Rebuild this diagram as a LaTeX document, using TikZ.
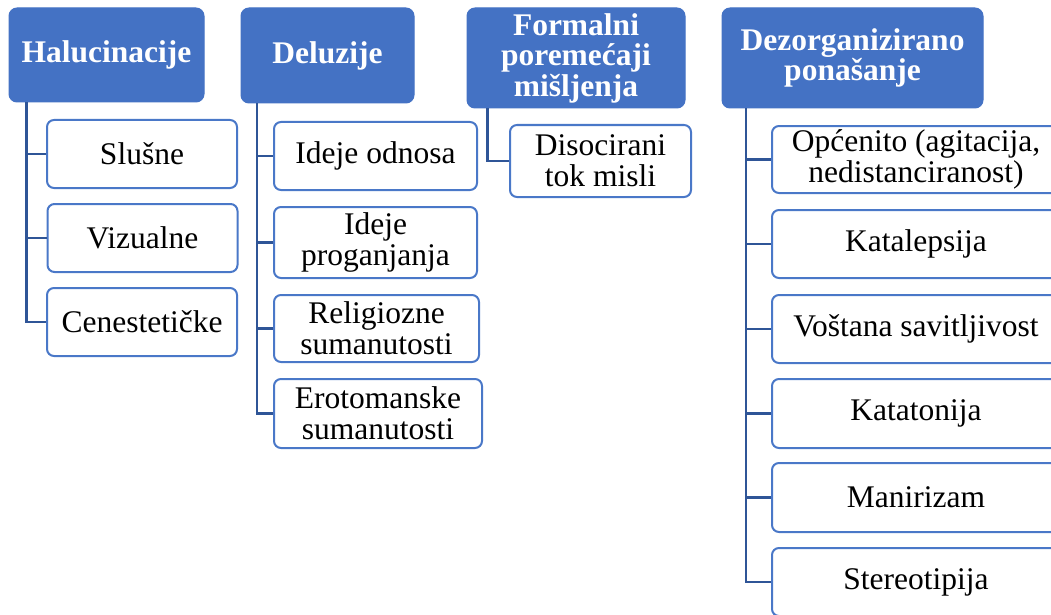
\documentclass[tikz,border=0pt]{standalone}
\usepackage{fontspec}
\setmainfont{Liberation Serif}
\definecolor{hdrblue}{HTML}{4472C4}
\definecolor{boxblue}{HTML}{4A78C8}
\definecolor{connblue}{HTML}{2F5597}
\tikzset{
  hdr/.style={draw=hdrblue, fill=hdrblue, rounded corners=8pt, line width=1pt, inner sep=0pt,
    text=white, align=center, font=\fontsize{31.5}{30.5}\selectfont\bfseries},
  child/.style={draw=boxblue, fill=white, rounded corners=7pt, line width=2pt, inner sep=0pt,
    text=black, align=center, font=\fontsize{31.5}{31}\selectfont},
  conn/.style={draw=connblue, line width=2.8pt},
}
\begin{document}
\begin{tikzpicture}[x=1pt,y=-1pt]
\useasboundingbox (0,0) rectangle (1051,615);
\clip (0,0) rectangle (1051,615);
% headers
\node[hdr, minimum width=195, minimum height=94] (h1) at (106.5,55) {Halucinacije};
\node[hdr, minimum width=173, minimum height=95] (h2) at (327.5,55.5) {Deluzije};
\node[hdr, minimum width=218, minimum height=100] (h3) at (576,58) {Formalni\\poremećaji\\mišljenja};
\node[hdr, minimum width=261, minimum height=100] (h4) at (852.5,58) {Dezorganizirano\\ponašanje};
% column 1
\node[child, minimum width=190, minimum height=68] (c11) at (142,154) {Slušne};
\node[child, minimum width=190, minimum height=68] (c12) at (142.5,238) {Vizualne};
\node[child, minimum width=190, minimum height=68] (c13) at (142,322) {Cenestetičke};
% column 2
\node[child, minimum width=203, minimum height=68] (c21) at (375.5,156) {Ideje odnosa};
\node[child, minimum width=203, minimum height=71] (c22) at (375.5,242.5) {Ideje\\proganjanja};
\node[child, minimum width=205, minimum height=67] (c23) at (376.5,328.5) {Religiozne\\sumanutosti};
\node[child, minimum width=208, minimum height=69] (c24) at (378,413.5) {Erotomanske\\sumanutosti};
% column 3
\node[child, minimum width=181, minimum height=72] (c31) at (600.5,161) {Disocirani\\tok misli};
% column 4
\node[child, minimum width=288, minimum height=67] (c41) at (916,159.5) {Općenito (agitacija,\\nedistanciranost)};
\node[child, minimum width=288, minimum height=68] (c42) at (916,244) {Katalepsija};
\node[child, minimum width=288, minimum height=68] (c43) at (916,329) {Voštana savitljivost};
\node[child, minimum width=288, minimum height=69] (c44) at (916,413.5) {Katatonija};
\node[child, minimum width=288, minimum height=69] (c45) at (916,497.5) {Manirizam};
\node[child, minimum width=288, minimum height=68] (c46) at (916,582) {Stereotipija};
% connectors
\foreach \c in {c11,c12,c13} \draw[conn] ([xshift=18pt]h1.south west) |- (\c.west);
\foreach \c in {c21,c22,c23,c24} \draw[conn] ([xshift=16.5pt]h2.south west) |- (\c.west);
\draw[conn] ([xshift=21pt]h3.south west) |- (c31.west);
\foreach \c in {c41,c42,c43,c44,c45,c46} \draw[conn] ([xshift=24.5pt]h4.south west) |- (\c.west);
\end{tikzpicture}
\end{document}
